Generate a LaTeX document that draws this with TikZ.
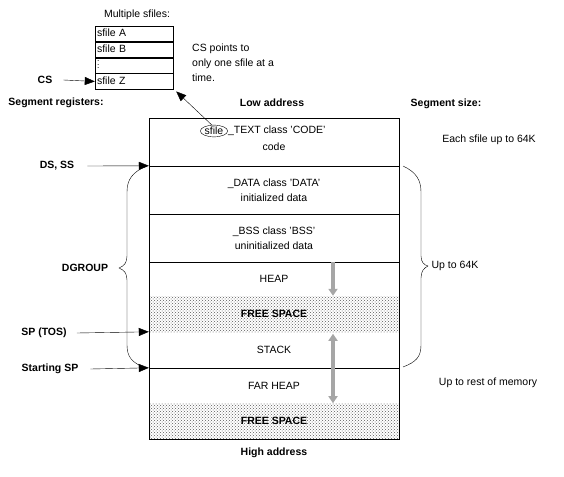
\documentclass[tikz,border=0pt]{standalone}
\usepackage{fontspec}
\usepackage{graphicx}
\setmainfont{Liberation Sans}
\usetikzlibrary{arrows.meta,patterns,positioning,shapes.geometric}
\tikzset{
  lbl/.style={font=\fontsize{10.5}{15}\selectfont,inner sep=1pt},
  reg/.style={font=\fontsize{10.5}{12}\selectfont\bfseries,inner sep=1pt},
  seg/.style={minimum width=250pt,inner sep=0pt,align=center,font=\fontsize{10.5}{15.5}\selectfont},
  free/.style={seg,pattern=crosshatch dots,pattern color=black!65,font=\fontsize{10.5}{12}\selectfont\bfseries},
  sfrow/.style={draw,minimum height=15.5pt,text height=8pt,text depth=2.5pt,text width=74pt,inner sep=2pt,align=left,font=\fontsize{10.5}{12}\selectfont},
  ptr/.style={-{Triangle[length=10pt,width=8pt]}},
  growarrow/.style={line width=3.5pt,draw=gray!70}
}
\begin{document}
\begin{tikzpicture}[x=1pt,y=-1pt]
  \useasboundingbox (0,0) rectangle (564,476);
  \node[lbl] (multi) at (137,15) {Multiple sfiles:};
  \node[sfrow] (sfa) at (134,33.75) {sfile A};
  \node[sfrow,below=0pt of sfa] (sfb) {sfile B};
  \node[sfrow,below=0pt of sfb] (sfdots) {\scalebox{0.8}{$\vdots$}};
  \node[sfrow,below=0pt of sfdots] (sfz) {sfile Z};
  \node[lbl,anchor=north west,align=left] (cspts) at (191,43) {CS points to\\only one sfile at a\\time.};
  \node[reg] (cs) at (45,80) {CS};
  \draw[ptr] ([xshift=10pt]cs.east) -- (sfz.west);
  \node[reg] (segreg) at (56,103) {Segment registers:};
  \node[reg] (lowaddr) at (272,103) {Low address};
  \node[reg] (segsize) at (446,104) {Segment size:};
  \node[seg,minimum height=48pt] (code) at (274,142) {};
  \node[seg,minimum height=48pt] (data) at (274,190) {\_DATA class 'DATA'\\initialized data};
  \node[seg,minimum height=48pt] (bss) at (274,238) {\_BSS class 'BSS'\\uninitialized data};
  \node[seg,minimum height=34pt] (heap) at (274,279) {HEAP};
  \node[free,minimum height=36pt] (free1) at (274,314) {FREE SPACE};
  \node[seg,minimum height=36pt] (stack) at (274,350) {STACK};
  \node[seg,minimum height=35pt] (farheap) at (274,385.5) {FAR HEAP};
  \node[free,minimum height=36pt] (free2) at (274,421) {FREE SPACE};
  \draw (code.north west) rectangle (free2.south east);
  \draw (code.south west) -- (code.south east);
  \draw (data.south west) -- (data.south east);
  \draw (bss.south west) -- (bss.south east);
  \draw (stack.south west) -- (stack.south east);
  \node[ellipse,draw,inner sep=0.3pt,font=\fontsize{10.5}{12}\selectfont] (sfilein) at (214,131) {sfile};
  \node[lbl,anchor=west,inner sep=0pt] (textcls) at (sfilein.east) {\_TEXT class 'CODE'};
  \node[lbl] (codetxt) at (274,147) {code};
  \draw[ptr] (sfilein.110) -- ([shift={(3pt,-2pt)}]sfz.south east);
  \node[lbl] (each) at (489,140) {Each sfile up to 64K};
  \node[reg] (dsss) at (57,166) {DS, SS};
  \node[reg] (dgroup) at (85,268) {DGROUP};
  \node[reg] (sptos) at (44,333) {SP (TOS)};
  \node[reg] (startsp) at (50,369) {Starting SP};
  \draw[ptr] ([xshift=12pt]dsss.east) -- (data.north west);
  \draw[ptr] ([xshift=9pt]sptos.east) -- (stack.north west);
  \draw[ptr] ([xshift=11pt]startsp.east) -- (farheap.north west);
  \draw (147,166) .. controls (132,172) and (127,180) .. (127,192) -- (127,256)
    .. controls (127,263) and (124,266) .. (119,268)
    .. controls (124,270) and (127,273) .. (127,280) -- (127,345)
    .. controls (127,357) and (132,363) .. (146,368);
  \draw (403,166) .. controls (416,172) and (421,180) .. (421,192) -- (421,256)
    .. controls (421,262) and (424,265) .. (428,266)
    .. controls (424,268) and (421,271) .. (421,278) -- (421,345)
    .. controls (421,357) and (416,362) .. (403,367);
  \node[lbl] (upto) at (455,266) {Up to 64K};
  \node[lbl] (uprest) at (488,383) {Up to rest of memory};
  \draw[growarrow,-{Triangle[length=7pt,width=9pt]}] ([xshift=59pt]heap.north) -- ([xshift=59pt]free1.north);
  \draw[growarrow,{Triangle[length=7pt,width=9pt]}-{Triangle[length=7pt,width=9pt]}] ([shift={(59pt,-2pt)}]stack.north) -- ([xshift=59pt]farheap.south);
  \node[reg] (highaddr) at (274,453) {High address};
\end{tikzpicture}
\end{document}
